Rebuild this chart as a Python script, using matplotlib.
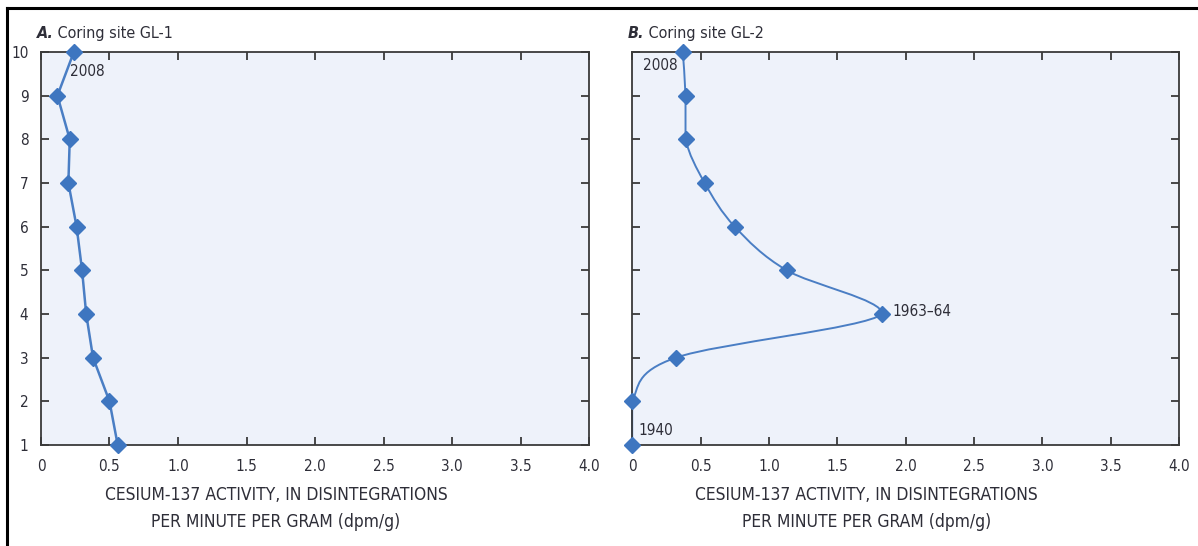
import matplotlib
matplotlib.use("Agg")
import matplotlib.pyplot as plt
from matplotlib.path import Path
from matplotlib.patches import PathPatch
from matplotlib.lines import Line2D

plt.rcParams['font.family'] = ['DejaVu Sans']
plt.rcParams['font.stretch'] = 'condensed'

# Sample depth intervals (plotted bottom = oldest)
depth = [10, 9, 8, 7, 6, 5, 4, 3, 2, 1]
# Cesium-137 activity, dpm/g
gl1_activity = [0.24, 0.12, 0.21, 0.20, 0.26, 0.30, 0.33, 0.38, 0.50, 0.56]
gl2_activity = [0.37, 0.39, 0.39, 0.53, 0.75, 1.13, 1.83, 0.32, 0.0, 0.0]

x_ticks = [0, 0.5, 1.0, 1.5, 2.0, 2.5, 3.0, 3.5, 4.0]
x_tick_labels = ['0', '0.5', '1.0', '1.5', '2.0', '2.5', '3.0', '3.5', '4.0']
y_ticks = [1, 2, 3, 4, 5, 6, 7, 8, 9, 10]

panel_letters = ['A.', 'B.']
panel_titles = [' Coring site GL-1', ' Coring site GL-2']
x_label = 'CESIUM-137 ACTIVITY, IN DISINTEGRATIONS\nPER MINUTE PER GRAM (dpm/g)'

BLUE = '#3E76C0'
LINE = '#4A7EC4'
TEXT = '#2E2E38'
SPINE = '#3A3A3A'
FACE = '#EEF2FA'


def _clamp(v, a, b):
    lo, hi = min(a, b), max(a, b)
    return max(lo, min(hi, v))


def smooth_path(xs, ys):
    """Catmull-Rom curve through the points as cubic Beziers, with control
    points kept inside each segment's box to avoid overshoot."""
    pts = list(zip(xs, ys))
    n = len(pts)
    verts = [pts[0]]
    codes = [Path.MOVETO]
    for i in range(n - 1):
        p0 = pts[i - 1] if i > 0 else pts[i]
        p1 = pts[i]
        p2 = pts[i + 1]
        p3 = pts[i + 2] if i + 2 < n else pts[i + 1]
        c1 = [p1[0] + (p2[0] - p0[0]) / 6.0, p1[1] + (p2[1] - p0[1]) / 6.0]
        c2 = [p2[0] - (p3[0] - p1[0]) / 6.0, p2[1] - (p3[1] - p1[1]) / 6.0]
        for c in (c1, c2):
            c[0] = _clamp(c[0], p1[0], p2[0])
            c[1] = _clamp(c[1], p1[1], p2[1])
        verts += [tuple(c1), tuple(c2), p2]
        codes += [Path.CURVE4] * 3
    return Path(verts, codes)


fig = plt.figure(figsize=(11.98, 5.46), dpi=100)
ax_a = fig.add_axes([0.0342, 0.185, 0.4575, 0.7198])
ax_b = fig.add_axes([0.5277, 0.185, 0.4566, 0.7198])

for k, ax in enumerate([ax_a, ax_b]):
    ax.set_facecolor(FACE)
    ax.set_xlim(0, 4.0)
    ax.set_ylim(1, 10)
    ax.set_xticks(x_ticks)
    ax.set_xticklabels(x_tick_labels)
    ax.set_yticks(y_ticks)
    for s in ax.spines.values():
        s.set_color(SPINE)
        s.set_linewidth(1.3)
    ax.tick_params(axis='both', direction='in', length=6, width=1.3,
                   color=SPINE, labelsize=11, labelcolor=TEXT,
                   top=True, right=True)
    ax.tick_params(axis='x', pad=10)
    ax.tick_params(axis='y', pad=9)
    if k == 1:
        ax.tick_params(axis='y', labelleft=False)
    ax.set_xlabel(x_label, fontsize=12.5, color=TEXT, linespacing=1.65,
                  ha='center', va='top')
    ax.xaxis.set_label_coords(0.429, -0.104)
    t1 = ax.text(-0.008, 1.028, panel_letters[k], transform=ax.transAxes,
                 fontsize=11.5, fontweight='bold', fontstyle='italic',
                 color=TEXT, ha='left', va='bottom')
    ax.annotate(panel_titles[k], xy=(1, 0), xycoords=t1, fontsize=11.5,
                color=TEXT, ha='left', va='bottom')

# Site GL-1
ax_a.plot(gl1_activity, depth, color=LINE, lw=1.8, marker='D', ms=8,
          mfc=BLUE, mec=BLUE, clip_on=False, zorder=3)
ax_a.annotate('2008', xy=(gl1_activity[0], depth[0]), xytext=(-3, -14),
              textcoords='offset points', fontsize=11, color=TEXT,
              ha='left', va='center')

# Site GL-2 (smoothed profile)
ax_b.add_patch(PathPatch(smooth_path(gl2_activity, depth), fill=False,
                         edgecolor=LINE, lw=1.4, clip_on=False, zorder=2))
ax_b.plot(gl2_activity, depth, linestyle='none', marker='D', ms=8,
          mfc=BLUE, mec=BLUE, clip_on=False, zorder=3)
ax_b.annotate('2008', xy=(gl2_activity[0], depth[0]), xytext=(-4, -9.5),
              textcoords='offset points', fontsize=11, color=TEXT,
              ha='right', va='center')
ax_b.annotate('1963\u201364', xy=(gl2_activity[6], depth[6]), xytext=(7.5, 1.5),
              textcoords='offset points', fontsize=11, color=TEXT,
              ha='left', va='center')
ax_b.annotate('1940', xy=(gl2_activity[9], depth[9]), xytext=(4.5, 10.5),
              textcoords='offset points', fontsize=11, color=TEXT,
              ha='left', va='center')

# Frame rules along the top and left edge
fig.add_artist(Line2D([0.0055, 1.0], [0.9853, 0.9853], transform=fig.transFigure,
                      color='black', lw=2.2))
fig.add_artist(Line2D([0.0058, 0.0058], [0.0, 0.9853], transform=fig.transFigure,
                      color='black', lw=2.2))

fig.savefig('out.png', dpi=100, facecolor='white')
